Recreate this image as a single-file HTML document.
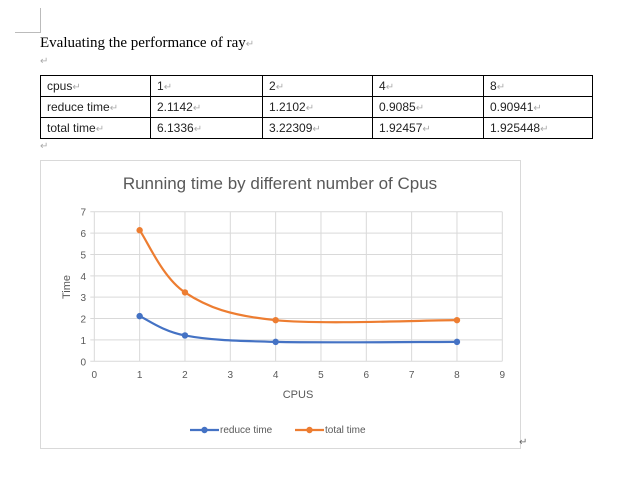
<!DOCTYPE html>
<html><head><meta charset="utf-8"><style>
body{margin:0;width:617px;height:481px;background:#fff;position:relative;overflow:hidden;font-family:"Liberation Sans","Noto Sans CJK SC",sans-serif}
.abs{position:absolute}
table{position:absolute;left:40px;top:75px;border-collapse:collapse;font-size:12px;color:#222}
td{border:1px solid #000;height:21px;padding:0 0 0 6px;box-sizing:border-box}
.m{color:#aaa;font-size:10px}
</style></head><body>
<div class="abs" style="left:15px;top:8px;width:25px;height:24px;border-right:1px solid #bbb;border-bottom:1px solid #bbb"></div>
<div class="abs" style="left:40px;top:35px;font-family:'Liberation Serif',serif;font-size:15px;color:#000">Evaluating the performance of ray<span class="m">↵</span></div>
<div class="abs m" style="left:40px;top:56px">↵</div>
<table>
<tr><td style="width:110px">cpus<span class="m">↵</span></td><td style="width:112px">1<span class="m">↵</span></td><td style="width:110px">2<span class="m">↵</span></td><td style="width:111px">4<span class="m">↵</span></td><td style="width:109px">8<span class="m">↵</span></td></tr>
<tr><td>reduce time<span class="m">↵</span></td><td>2.1142<span class="m">↵</span></td><td>1.2102<span class="m">↵</span></td><td>0.9085<span class="m">↵</span></td><td>0.90941<span class="m">↵</span></td></tr>
<tr><td>total time<span class="m">↵</span></td><td>6.1336<span class="m">↵</span></td><td>3.22309<span class="m">↵</span></td><td>1.92457<span class="m">↵</span></td><td>1.925448<span class="m">↵</span></td></tr>
</table>
<div class="abs m" style="left:40px;top:141px">↵</div>
<svg class="abs" style="left:0;top:0" width="617" height="481" id="chart"></svg>
<script>
const xVals=[1,2,4,8];
const reduceTime=[2.1142,1.2102,0.9085,0.90941];
const totalTime=[6.1336,3.22309,1.92457,1.925448];
const xTicks=[0,1,2,3,4,5,6,7,8,9];
const yTicks=[0,1,2,3,4,5,6,7];
const svg=document.getElementById('chart');
const NS='http://www.w3.org/2000/svg';
const X=v=>94.3+v*(408/9), Y=v=>361.3-v*(149.6/7);
function mk(t,a,p){const e=document.createElementNS(NS,t);for(const k in a)e.setAttribute(k,a[k]);(p||svg).appendChild(e);return e;}
const frame=mk('rect',{x:40.5,y:160.5,width:480,height:288,fill:'#fff',stroke:'#d9d9d9'});


const title=mk('text',{x:280,y:189,'text-anchor':'middle','font-size':17,fill:'#595959'});
title.textContent='Running time by different number of Cpus';


xTicks.forEach(t=>{const g=mk('line',{x1:X(t),x2:X(t),y1:Y(7),y2:Y(0),stroke:'#d9d9d9'});


const l=mk('text',{x:X(t),y:378,'text-anchor':'middle','font-size':10,fill:'#595959'});l.textContent=t;

});
yTicks.forEach(t=>{const g=mk('line',{x1:X(0)-4,x2:X(9),y1:Y(t),y2:Y(t),stroke:'#d9d9d9'});


const l=mk('text',{x:86,y:Y(t)+4,'text-anchor':'end','font-size':10,fill:'#595959'});l.textContent=t;

});
const xa=mk('text',{x:298,y:398,'text-anchor':'middle','font-size':11,fill:'#595959'});xa.textContent='CPUS';


const ya=mk('text',{x:0,y:0,'text-anchor':'middle','font-size':11,fill:'#595959',transform:'translate(70,287) rotate(-90)'});ya.textContent='Time';


function smooth(pts){let d=`M${pts[0][0]},${pts[0][1]}`;for(let i=0;i<pts.length-1;i++){const p0=pts[i-1]||pts[i],p1=pts[i],p2=pts[i+1],p3=pts[i+2]||p2;const k=1/6;d+=` C${p1[0]+(p2[0]-p0[0])*k},${p1[1]+(p2[1]-p0[1])*k} ${p2[0]-(p3[0]-p1[0])*k},${p2[1]-(p3[1]-p1[1])*k} ${p2[0]},${p2[1]}`;}return d;}
[[reduceTime,'#4472c4','reduce'],[totalTime,'#ed7d31','total']].forEach(([vals,c,n])=>{
const pts=xVals.map((x,i)=>[X(x),Y(vals[i])]);
const p=mk('path',{d:smooth(pts),fill:'none',stroke:c,'stroke-width':2.2});


pts.forEach(q=>{const m=mk('circle',{cx:q[0],cy:q[1],r:3.2,fill:c});

});});
[[190,'#4472c4','reduce time'],[295,'#ed7d31','total time']].forEach(([x,c,t])=>{
const g=mk('g',{});


mk('line',{x1:x,x2:x+29,y1:430,y2:430,stroke:c,'stroke-width':2.2},g);
mk('circle',{cx:x+14.5,cy:430,r:3.2,fill:c},g);
const l=mk('text',{x:x+30,y:433,'font-size':10,fill:'#595959'},g);l.textContent=t;});
const pm=mk('text',{x:519,y:445,'font-size':10,fill:'#666'});pm.textContent='↵';


</script>
</body></html>
